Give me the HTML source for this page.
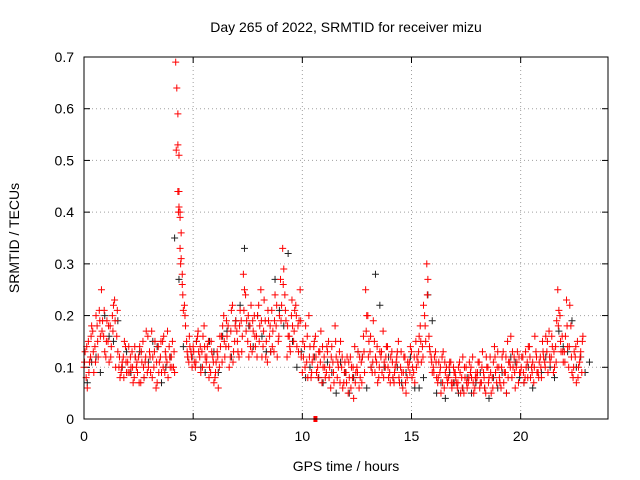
<!DOCTYPE html>
<html><head><meta charset="utf-8"><style>
html,body{margin:0;padding:0;background:#fff;}
svg{display:block;font-family:"Liberation Sans",sans-serif;}
</style></head><body>
<svg id="chart" width="640" height="480" viewBox="0 0 640 480">
<text x="346" y="32" text-anchor="middle" font-size="14">Day 265 of 2022, SRMTID for receiver mizu</text>
<text x="346" y="471" text-anchor="middle" font-size="14">GPS time / hours</text>
<text transform="translate(19,238) rotate(-90)" text-anchor="middle" font-size="14">SRMTID / TECUs</text>
<g id="grid"></g><g id="ticks"></g><g id="black"></g><g id="red"></g>
<rect x="84" y="57" width="524" height="362" fill="none" stroke="#000" stroke-width="1"/>
</svg>
<script>
const xTicks=[0,5,10,15,20];
const yTicks=[0,0.1,0.2,0.3,0.4,0.5,0.6,0.7];
const yTickLabels=["0","0.1","0.2","0.3","0.4","0.5","0.6","0.7"];
const redStartA=0.0, redStartB=0.05, redStartC=0.025, redStep=0.1;
const redA=[0.10,0.08,0.15,0.12,0.17,0.14,0.18,0.21,0.25,0.16,
0.12,0.15,0.18,0.20,0.23,0.16,0.10,0.09,0.12,0.14,
0.11,0.09,0.13,0.08,0.10,0.12,0.07,0.15,0.11,0.09,
0.13,0.17,0.10,0.06,0.14,0.12,0.15,0.09,0.11,0.14,
0.12,0.10,0.69,0.44,0.33,0.28,0.22,0.15,0.11,0.13,
0.14,0.10,0.16,0.12,0.13,0.18,0.11,0.15,0.09,0.12,
0.08,0.13,0.10,0.16,0.20,0.14,0.18,0.12,0.22,0.15,
0.17,0.12,0.19,0.28,0.24,0.15,0.18,0.13,0.20,0.16,
0.22,0.25,0.14,0.19,0.11,0.16,0.21,0.13,0.18,0.15,
0.27,0.33,0.24,0.12,0.16,0.20,0.15,0.22,0.18,0.25,
0.09,0.14,0.11,0.20,0.08,0.12,0.16,0.10,0.13,0.07,
0.12,0.09,0.15,0.06,0.11,0.18,0.08,0.13,0.10,0.07,
0.09,0.05,0.12,0.08,0.14,0.10,0.06,0.11,0.16,0.25,
0.20,0.13,0.09,0.15,0.11,0.08,0.12,0.17,0.10,0.14,
0.09,0.13,0.07,0.11,0.15,0.10,0.06,0.12,0.08,0.11,
0.13,0.09,0.15,0.11,0.18,0.14,0.20,0.30,0.16,0.12,
0.10,0.13,0.07,0.09,0.12,0.06,0.10,0.08,0.11,0.07,
0.09,0.06,0.11,0.08,0.05,0.10,0.07,0.09,0.12,0.06,
0.08,0.11,0.07,0.09,0.05,0.10,0.12,0.08,0.14,0.07,
0.10,0.06,0.13,0.09,0.15,0.11,0.08,0.12,0.10,0.07,
0.09,0.12,0.08,0.11,0.14,0.10,0.07,0.13,0.09,0.12,
0.15,0.11,0.13,0.17,0.12,0.09,0.14,0.25,0.20,0.16,
0.13,0.23,0.10,0.18,0.08,0.12,0.15,0.11,0.09];
const redB=[0.13,0.06,0.11,0.18,0.09,0.20,0.12,0.16,0.19,0.13,
0.19,0.11,0.14,0.22,0.10,0.13,0.08,0.11,0.15,0.09,
0.14,0.10,0.07,0.12,0.09,0.14,0.11,0.08,0.17,0.10,
0.09,0.12,0.15,0.07,0.11,0.09,0.16,0.12,0.08,0.10,
0.15,0.09,0.64,0.41,0.36,0.21,0.18,0.12,0.14,0.10,
0.11,0.15,0.13,0.09,0.16,0.12,0.14,0.10,0.13,0.07,
0.11,0.06,0.14,0.18,0.12,0.16,0.10,0.21,0.13,0.19,
0.13,0.21,0.16,0.25,0.19,0.12,0.22,0.17,0.14,0.20,
0.18,0.12,0.23,0.15,0.19,0.13,0.17,0.24,0.12,0.20,
0.22,0.29,0.19,0.16,0.13,0.18,0.21,0.14,0.19,0.12,
0.12,0.18,0.08,0.14,0.11,0.15,0.09,0.13,0.17,0.10,
0.08,0.13,0.10,0.14,0.07,0.12,0.10,0.15,0.06,0.11,
0.12,0.08,0.10,0.04,0.09,0.13,0.08,0.12,0.09,0.20,
0.15,0.10,0.19,0.12,0.07,0.13,0.09,0.11,0.14,0.08,
0.12,0.08,0.10,0.13,0.07,0.09,0.12,0.05,0.10,0.14,
0.10,0.07,0.12,0.16,0.11,0.22,0.15,0.27,0.13,0.09,
0.12,0.08,0.11,0.05,0.13,0.09,0.07,0.11,0.06,0.09,
0.07,0.10,0.05,0.12,0.08,0.06,0.11,0.08,0.05,0.09,
0.11,0.07,0.13,0.06,0.10,0.08,0.05,0.11,0.09,0.13,
0.07,0.12,0.09,0.05,0.11,0.16,0.10,0.06,0.13,0.09,
0.12,0.07,0.10,0.14,0.08,0.11,0.16,0.09,0.11,0.08,
0.12,0.16,0.09,0.11,0.14,0.10,0.19,0.21,0.13,0.11,
0.16,0.14,0.22,0.09,0.13,0.07,0.10,0.13,0.16];
const redC=[0.11,0.14,0.09,0.16,0.13,0.11,0.15,0.19,0.17,0.21,
0.15,0.18,0.12,0.17,0.19,0.21,0.12,0.10,0.08,0.11,
0.09,0.12,0.10,0.14,0.11,0.07,0.13,0.10,0.12,0.16,
0.12,0.08,0.13,0.11,0.09,0.15,0.10,0.13,0.17,0.12,
0.10,0.13,0.52,0.40,0.30,0.24,0.20,0.13,0.16,0.12,
0.13,0.11,0.17,0.14,0.10,0.14,0.12,0.08,0.15,0.11,
0.09,0.12,0.16,0.11,0.15,0.19,0.14,0.17,0.11,0.18,
0.15,0.18,0.13,0.21,0.17,0.20,0.14,0.19,0.16,0.12,
0.15,0.19,0.17,0.12,0.21,0.18,0.14,0.19,0.22,0.16,
0.19,0.26,0.21,0.18,0.14,0.23,0.17,0.20,0.13,0.19,
0.15,0.10,0.16,0.12,0.09,0.14,0.12,0.08,0.11,0.14,
0.10,0.14,0.08,0.12,0.09,0.15,0.11,0.07,0.12,0.09,
0.07,0.11,0.06,0.10,0.07,0.09,0.12,0.07,0.13,0.17,
0.12,0.16,0.11,0.09,0.14,0.10,0.13,0.08,0.12,0.10,
0.07,0.11,0.09,0.12,0.08,0.13,0.09,0.07,0.11,0.09,
0.08,0.12,0.10,0.13,0.15,0.12,0.18,0.24,0.14,0.11,
0.09,0.11,0.08,0.10,0.07,0.11,0.08,0.10,0.07,0.10,
0.08,0.07,0.09,0.06,0.10,0.07,0.08,0.10,0.07,0.08,
0.09,0.06,0.10,0.08,0.12,0.07,0.09,0.06,0.12,0.10,
0.08,0.10,0.07,0.12,0.08,0.10,0.13,0.09,0.11,0.12,
0.10,0.09,0.13,0.08,0.12,0.09,0.10,0.12,0.08,0.10,
0.13,0.10,0.15,0.12,0.16,0.13,0.11,0.18,0.15,0.13,
0.11,0.18,0.14,0.12,0.10,0.14,0.08,0.12,0.15];
const spikeTimes=[4.3,4.3,4.35,4.35,4.4,4.4,4.45,4.5];
const spikeValues=[0.59,0.53,0.51,0.44,0.40,0.39,0.31,0.26];
const blackStart=0.15, blackStart2=0.35, blackStep=0.4;
const blackValues=[0.07,0.12,0.20,0.15,0.10,0.09,0.13,0.11,0.14,0.10,0.35,0.14,0.12,0.10,0.15,0.09,0.17,0.19,0.33,0.14,0.16,0.13,0.21,0.32,0.10,0.08,0.12,0.07,0.09,0.11,0.05,0.13,0.06,0.28,0.10,0.08,0.07,0.12,0.06,0.24,0.05,0.04,0.07,0.06,0.05,0.09,0.04,0.06,0.05,0.11,0.07,0.06,0.09,0.10,0.17,0.13,0.10,0.09];
const blackValues2=[0.11,0.09,0.16,0.19,0.13,0.12,0.08,0.15,0.07,0.12,0.27,0.12,0.15,0.09,0.13,0.16,0.12,0.22,0.18,0.20,0.13,0.27,0.18,0.15,0.13,0.10,0.08,0.11,0.05,0.09,0.08,0.12,0.10,0.22,0.12,0.10,0.09,0.06,0.08,0.19,0.07,0.09,0.05,0.08,0.07,0.06,0.08,0.09,0.12,0.08,0.10,0.09,0.12,0.08,0.14,0.19,0.12,0.11];
const zeroMarkTimes=[10.6];
const zeroMarkValues=[0];

const X0=84,X1=608,Y0=419,Y1=57,XMAX=24,YMAX=0.7;
const sx=v=>X0+(X1-X0)*v/XMAX;
const sy=v=>Y0-(Y0-Y1)*v/YMAX;
const NS="http://www.w3.org/2000/svg";
function mk(tag,attrs,parent){const e=document.createElementNS(NS,tag);for(const k in attrs)e.setAttribute(k,attrs[k]);parent.appendChild(e);return e;}
const grid=document.getElementById('grid'),ticks=document.getElementById('ticks');
xTicks.forEach((t,i)=>{const x=sx(t);
 if(t>0){const g=mk('line',{x1:x,y1:Y0,x2:x,y2:Y1,stroke:'#a0a0a0','stroke-dasharray':'1,3'},grid);
 
 }
 mk('line',{x1:x,y1:Y0,x2:x,y2:Y0-6,stroke:'#000'},ticks);
 mk('line',{x1:x,y1:Y1,x2:x,y2:Y1+6,stroke:'#000'},ticks);
 const l=mk('text',{x:x,y:Y0+22,'text-anchor':'middle','font-size':14},ticks);l.textContent=String(t);
 
 
});
yTicks.forEach((t,i)=>{const y=sy(t);
 if(t>0&&t<YMAX){const g=mk('line',{x1:X0,y1:y,x2:X1,y2:y,stroke:'#a0a0a0','stroke-dasharray':'1,3'},grid);
 
 }
 mk('line',{x1:X0,y1:y,x2:X0+6,y2:y,stroke:'#000'},ticks);
 mk('line',{x1:X1,y1:y,x2:X1-6,y2:y,stroke:'#000'},ticks);
 const l=mk('text',{x:X0-10,y:y+5,'text-anchor':'end','font-size':14},ticks);l.textContent=yTickLabels[i];
 
 
});
function plus(g,t,v,color,name){const x=sx(t),y=sy(v);
 const p=mk('path',{d:`M${x-3.5},${y}h7M${x},${y-3.5}v7`,stroke:color,'stroke-width':1,fill:'none'},g);
 
 
}
const bg=document.getElementById('black'),rg=document.getElementById('red');
blackValues.forEach((v,i)=>plus(bg,blackStart+i*blackStep,v,'#222','black-point'));
blackValues2.forEach((v,i)=>plus(bg,blackStart2+i*blackStep,v,'#222','black-point'));
redA.forEach((v,i)=>plus(rg,redStartA+i*redStep,v,'#f00','red-point'));
redB.forEach((v,i)=>plus(rg,redStartB+i*redStep,v,'#f00','red-point'));
redC.forEach((v,i)=>plus(rg,redStartC+i*redStep,v,'#f00','red-point'));
spikeTimes.forEach((t,i)=>plus(rg,t,spikeValues[i],'#f00','spike-point'));
zeroMarkTimes.forEach((t,i)=>{const r=mk('rect',{x:sx(t)-2,y:sy(zeroMarkValues[i])-3,width:4,height:6,fill:'#f00'},rg);
 
 });
</script>
</body></html>
